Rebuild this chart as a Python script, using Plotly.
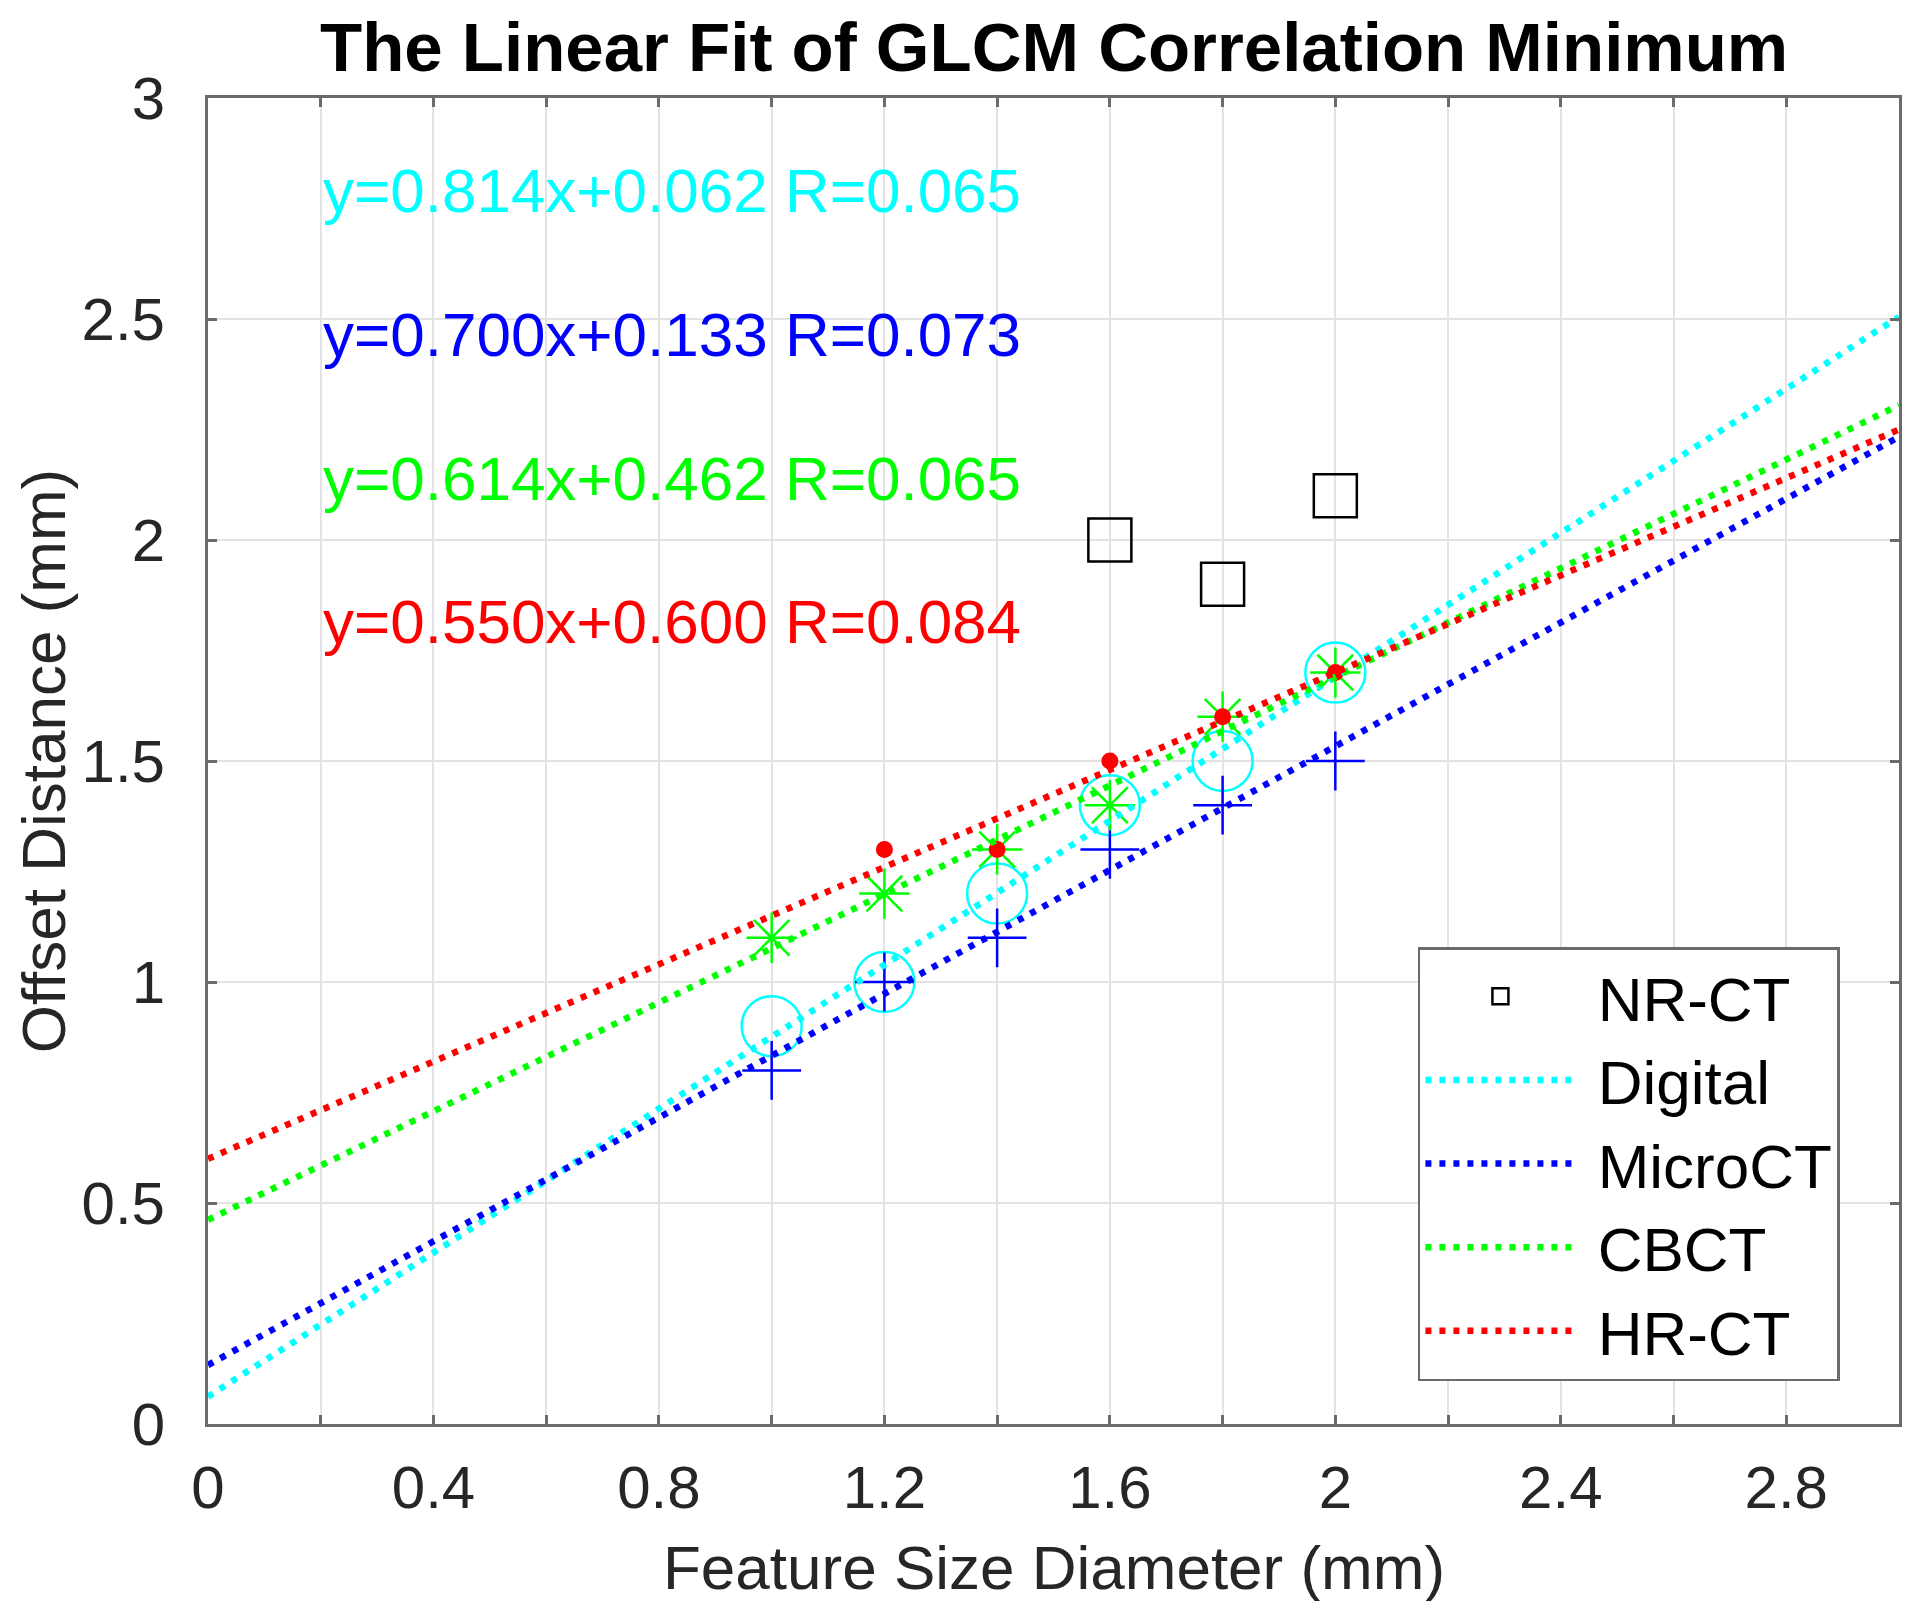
import numpy as np
import plotly.graph_objects as go

# ---------------- data ----------------
feature_size = [1.0, 1.2, 1.4, 1.6, 1.8, 2.0]
nrct_x = [1.6, 1.8, 2.0]
nrct_y = [2.0, 1.9, 2.1]
digital_y = [0.9, 1.0, 1.2, 1.4, 1.5, 1.7]
microct_y = [0.8, 1.0, 1.1, 1.3, 1.4, 1.5]
cbct_y = [1.1, 1.2, 1.3, 1.4, 1.6, 1.7]
hrct_x = [1.2, 1.4, 1.6, 1.8, 2.0]
hrct_y = [1.3, 1.3, 1.5, 1.6, 1.7]

fit_labels = [
    "y=0.814x+0.062 R=0.065",
    "y=0.700x+0.133 R=0.073",
    "y=0.614x+0.462 R=0.065",
    "y=0.550x+0.600 R=0.084",
]
legend_names = ["NR-CT", "Digital", "MicroCT", "CBCT", "HR-CT"]
x_tickvals = [0, 0.2, 0.4, 0.6, 0.8, 1.0, 1.2, 1.4, 1.6, 1.8, 2.0, 2.2, 2.4, 2.6, 2.8, 3.0]
x_ticktext = ["0", "", "0.4", "", "0.8", "", "1.2", "", "1.6", "", "2", "", "2.4", "", "2.8", ""]
y_tickvals = [0, 0.5, 1, 1.5, 2, 2.5, 3]
y_ticktext = ["0", "0.5", "1", "1.5", "2", "2.5", "3"]
x_range = [0, 3]
y_range = [0, 3]

# ---------------- styling ----------------
CYAN, BLUE, GREEN, RED = "#00FFFF", "#0000FF", "#00FF00", "#FF0000"
FONT = "Liberation Sans, Arial, sans-serif"
AX = "#262626"
AXLINE = "#6b6b6b"
FS = 60
PAD = "\u00a0"

fig = go.Figure()

# markers
fig.add_trace(go.Scatter(x=nrct_x, y=nrct_y, mode="markers", name=PAD + legend_names[0],
                         marker=dict(symbol="square-open", size=43, color="black",
                                     line=dict(width=2.5, color="black"))))
fig.add_trace(go.Scatter(x=feature_size, y=digital_y, mode="markers", showlegend=False,
                         marker=dict(symbol="circle-open", size=60, color=CYAN,
                                     line=dict(width=2.5, color=CYAN))))
fig.add_trace(go.Scatter(x=feature_size, y=microct_y, mode="markers", showlegend=False,
                         marker=dict(symbol="cross-thin-open", size=42, color=BLUE,
                                     line=dict(width=2.5, color=BLUE))))
fig.add_trace(go.Scatter(x=feature_size, y=cbct_y, mode="markers", showlegend=False,
                         marker=dict(symbol="asterisk-open", size=42, color=GREEN,
                                     line=dict(width=2.5, color=GREEN))))
fig.add_trace(go.Scatter(x=hrct_x, y=hrct_y, mode="markers", showlegend=False,
                         marker=dict(symbol="circle", size=17, color=RED)))

# fit lines (computed by least squares from the data)
xl = np.array(x_range, dtype=float)
series = [(legend_names[1], feature_size, digital_y, CYAN),
          (legend_names[2], feature_size, microct_y, BLUE),
          (legend_names[3], feature_size, cbct_y, GREEN),
          (legend_names[4], hrct_x, hrct_y, RED)]
for name, xs, ys, col in series:
    k, b = np.polyfit(xs, ys, 1)
    fig.add_trace(go.Scatter(x=xl, y=k * xl + b, mode="lines", name=PAD + name,
                             line=dict(color=col, width=6.5, dash="6px,8px")))

# fit equation texts
ann_y = [2.79, 2.465, 2.14, 1.815]
for txt, yy, col in zip(fit_labels, ann_y, [CYAN, BLUE, GREEN, RED]):
    fig.add_annotation(x=0.2, y=yy, xref="x", yref="y", text=txt, showarrow=False,
                       xanchor="left", yanchor="middle",
                       font=dict(family=FONT, size=FS + 2, color=col))

# title and axis titles as annotations
fig.add_annotation(x=0.5, y=1.038, xref="paper", yref="paper", showarrow=False,
                   text="<b>The Linear Fit of GLCM Correlation Minimum</b>",
                   xanchor="center", yanchor="middle",
                   font=dict(family=FONT, size=69, color="black"))
fig.add_annotation(x=0.5, y=-0.1085, xref="paper", yref="paper", showarrow=False,
                   text="Feature Size Diameter (mm)", xanchor="center", yanchor="middle",
                   font=dict(family=FONT, size=FS + 2, color=AX))
fig.add_annotation(x=-0.0974, y=0.5, xref="paper", yref="paper", showarrow=False,
                   text="Offset Distance (mm)", textangle=-90,
                   xanchor="center", yanchor="middle",
                   font=dict(family=FONT, size=FS + 2, color=AX))

axis_common = dict(showline=True, linecolor=AXLINE, linewidth=3, mirror="allticks",
                   ticks="inside", ticklen=9, tickwidth=2.5, tickcolor=AXLINE,
                   showgrid=True, gridcolor="#E3E3E3", gridwidth=2,
                   zeroline=False, tickfont=dict(family=FONT, size=FS, color=AX))

fig.update_xaxes(range=x_range, tickmode="array", tickvals=x_tickvals, ticktext=x_ticktext,
                 ticklabelstandoff=9, **axis_common)
fig.update_yaxes(range=y_range, tickmode="array", tickvals=y_tickvals, ticktext=y_ticktext,
                 ticklabelstandoff=28, **axis_common)

# page body has an 8px default margin, so the figure is sized/offset to compensate
fig.update_layout(
    width=1904, height=1593,
    margin=dict(l=200, r=10, t=90, b=177),
    paper_bgcolor="white", plot_bgcolor="white",
    font=dict(family=FONT, color=AX),
    legend=dict(x=0.7155, y=0.3597, xanchor="left", yanchor="top",
                bgcolor="white", bordercolor=AXLINE, borderwidth=2.5,
                font=dict(family=FONT, size=FS + 2, color="black"),
                itemwidth=150, tracegroupgap=0),
)

fig.write_html("out.html")
